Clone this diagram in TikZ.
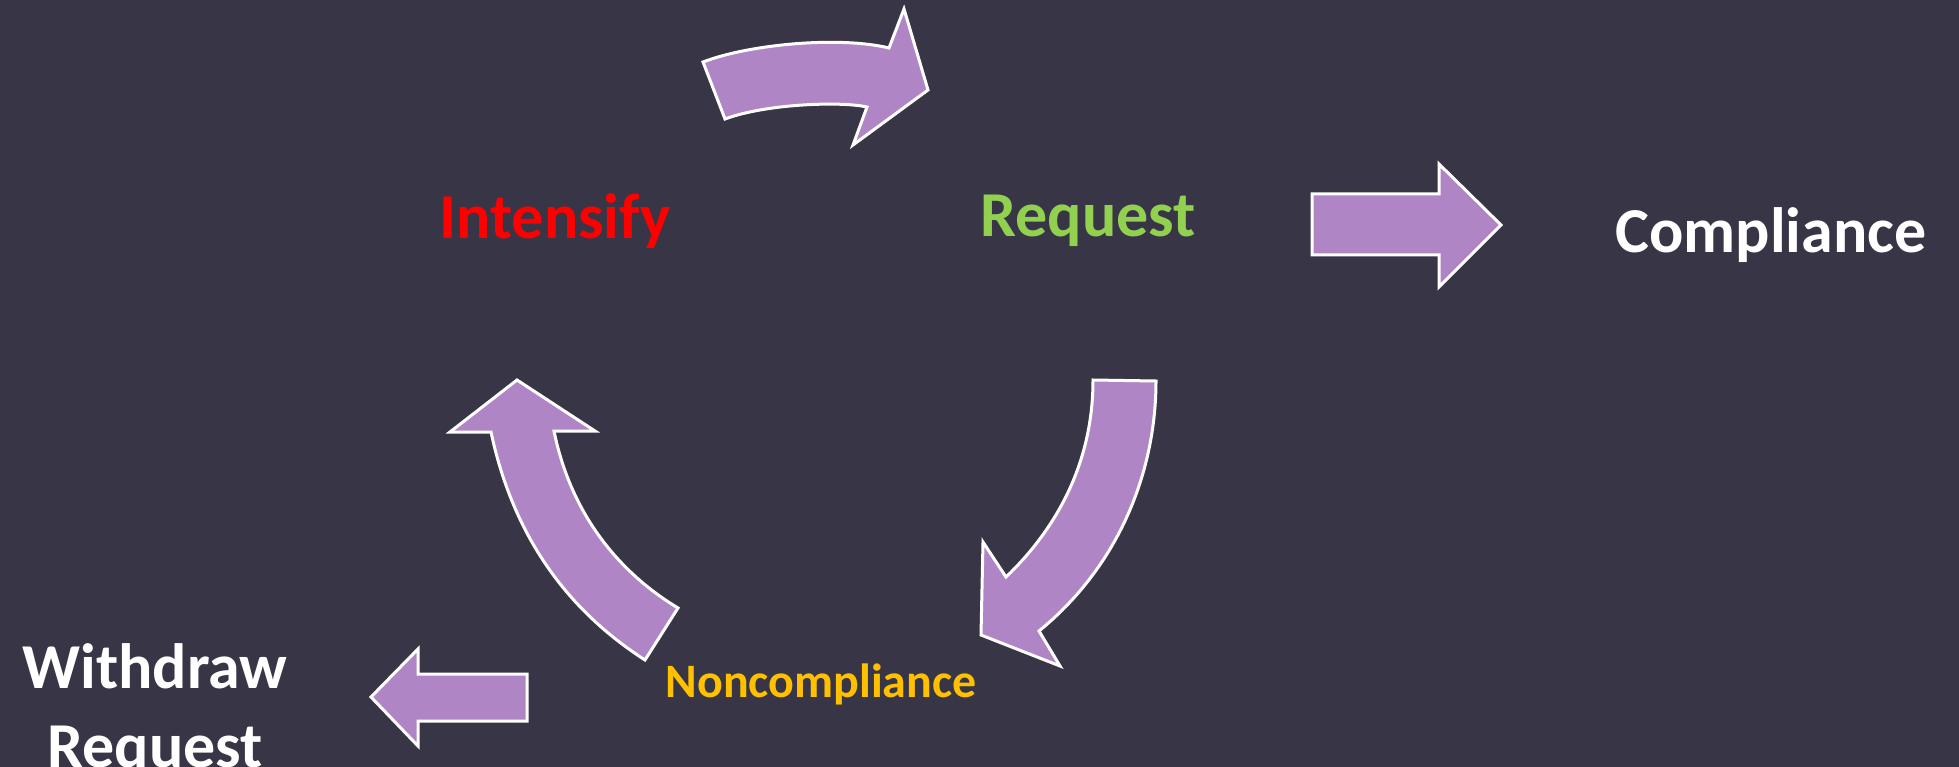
\documentclass[tikz,border=0pt]{standalone}
\usepackage{fontspec}
\setmainfont{Carlito}
\definecolor{bg}{HTML}{383547}
\definecolor{arrowfill}{HTML}{AF85C6}
\definecolor{reqgreen}{HTML}{92D050}
\definecolor{noncomp}{HTML}{FFC000}
\tikzset{
  fatarrow/.style={fill=arrowfill, draw=white, line width=3pt, line join=miter},
  lbl/.style={font=\bfseries, inner sep=0pt, anchor=base}
}
\begin{document}
\begin{tikzpicture}[x=1pt,y=-1pt]
\fill[bg] (0,0) rectangle (1959,767);
\useasboundingbox (0,0) rectangle (1959,767);
% labels
\node[lbl, text=red, font=\bfseries\fontsize{64}{70}\selectfont] (intensify) at (555,239) {Intensify};
\node[lbl, text=reqgreen, font=\bfseries\fontsize{64}{70}\selectfont] (request) at (1088,237) {Request};
\node[lbl, text=white, font=\bfseries\fontsize{64}{70}\selectfont] (compliance) at (1771,253) {Compliance};
\node[lbl, text=noncomp, font=\bfseries\fontsize{48}{56}\selectfont] (noncompliance) at (821,697) {Noncompliance};
\node[lbl, text=white, align=center, font=\bfseries\fontsize{64}{79}\selectfont] (withdraw) at (155,767) {Withdraw\\Request};
% top curved arrow
\draw[fatarrow] (703,62) .. controls (750,44) and (840,36) .. (889,48)
  -- (904,9) -- (928,90) -- (853,145) -- (867,107)
  .. controls (840,101) and (765,104) .. (725,119) -- cycle;
% right straight arrow
\draw[fatarrow] (1312,194) -- (1439,194) -- (1439,164) -- (1501,225)
  -- (1439,287) -- (1439,255) -- (1312,255) -- cycle;
% down curved arrow
\draw[fatarrow] (1093,380) -- (1156,381)
  .. controls (1156,470) and (1120,565) .. (1039,631)
  -- (1060,666) -- (981,635) -- (983,542) -- (1006,577)
  .. controls (1050,535) and (1093,470) .. cycle;
% left-up curved arrow
\draw[fatarrow] (517,380) -- (595,431) -- (554,431)
  .. controls (570,510) and (615,570) .. (678,608)
  -- (645,660)
  .. controls (575,615) and (515,545) .. (491,432)
  -- (450,432) -- cycle;
% left straight arrow
\draw[fatarrow] (527,674) -- (418,674) -- (418,649) -- (371,697)
  -- (418,746) -- (418,721) -- (527,721) -- cycle;
\end{tikzpicture}
\end{document}
